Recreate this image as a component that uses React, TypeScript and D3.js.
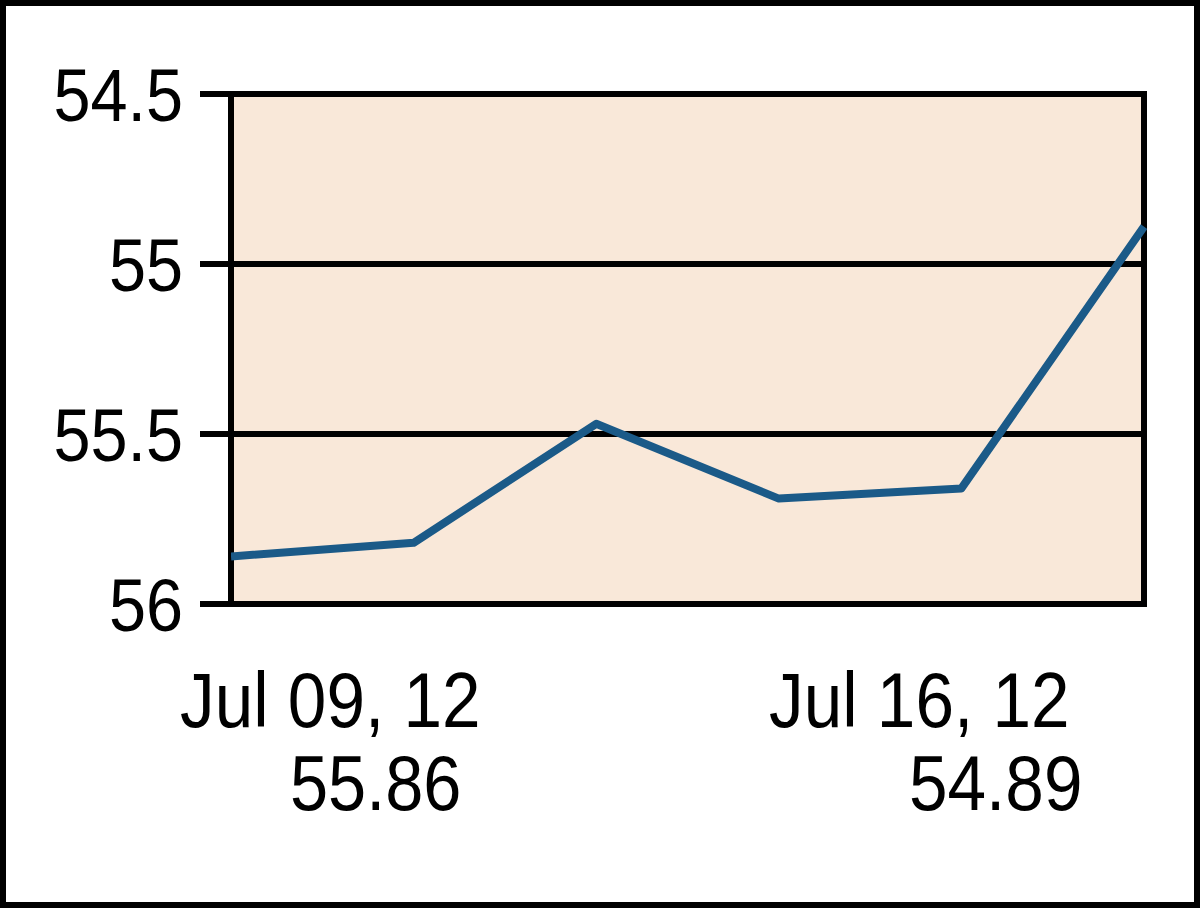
import React from "react";
import * as d3 from "d3";

const dates = ["Jul 09, 12", "Jul 10, 12", "Jul 11, 12", "Jul 12, 12", "Jul 13, 12", "Jul 16, 12"];
const values = [55.86, 55.82, 55.47, 55.69, 55.66, 54.89];
const yTicks = [54.5, 55, 55.5, 56];
const yTickLabels = ["54.5", "55", "55.5", "56"];

const W = 1200;
const H = 908;
const plot = { left: 231, right: 1144, top: 94, bottom: 604 };
const FONT = "'Liberation Sans', Arial, sans-serif";

export default function App() {
  const x = d3.scalePoint<string>().domain(dates).range([plot.left, plot.right]);
  const y = d3.scaleLinear().domain([54.5, 56]).range([plot.top, plot.bottom]);
  const line = d3
    .line<number>()
    .x((_, i) => x(dates[i]) as number)
    .y((d) => y(d));

  const first = dates[0];
  const last = dates[dates.length - 1];
  const firstVal = values[0].toFixed(2);
  const lastVal = values[values.length - 1].toFixed(2);

  return (
    <div style={{ position: "fixed", left: 0, top: 0, width: W, height: H, background: "#fff" }}>
      <svg width={W} height={H} style={{ display: "block" }}>
        <rect x={0} y={0} width={W} height={H} fill="#fff" />
        <rect x={3} y={3} width={W - 6} height={H - 6} fill="none" stroke="#000" strokeWidth={6} />
        <defs>
          <clipPath id="plotclip">
            <rect x={plot.left} y={plot.top - 4} width={plot.right - plot.left + 4} height={plot.bottom - plot.top + 8} />
          </clipPath>
        </defs>
        <rect
          x={plot.left}
          y={plot.top}
          width={plot.right - plot.left}
          height={plot.bottom - plot.top}
          fill="#F9E8D9"
        />
        {yTicks.map((t, i) => (
          <g key={t}>
            <line x1={200} x2={plot.right} y1={y(t)} y2={y(t)} stroke="#000" strokeWidth={6} />
            <text
              transform={`translate(183,${y(t) + 27}) scale(0.9,1)`}
              textAnchor="end"
              fontFamily={FONT}
              fontSize={74}
              fill="#000"
            >
              {yTickLabels[i]}
            </text>
          </g>
        ))}
        <line x1={plot.left} x2={plot.left} y1={plot.top - 3} y2={plot.bottom + 3} stroke="#000" strokeWidth={6} />
        <line x1={plot.right} x2={plot.right} y1={plot.top - 3} y2={plot.bottom + 3} stroke="#000" strokeWidth={6} />
        <path
          d={line(values) || ""}
          fill="none"
          stroke="#1B5A88"
          strokeWidth={8}
          strokeLinejoin="round"
          clipPath="url(#plotclip)"
        />
        <g fontFamily={FONT} fontSize={77} fill="#000">
          <text transform={`translate(${(x(first) as number) - 51},727) scale(0.9,1)`}>{first}</text>
          <text transform={`translate(${(x(first) as number) + 59},810) scale(0.89,1)`}>{firstVal}</text>
          <text transform={`translate(${(x(last) as number) - 375},727) scale(0.9,1)`}>{last}</text>
          <text transform={`translate(${(x(last) as number) - 235},810) scale(0.9,1)`}>{lastVal}</text>
        </g>
      </svg>
    </div>
  );
}
